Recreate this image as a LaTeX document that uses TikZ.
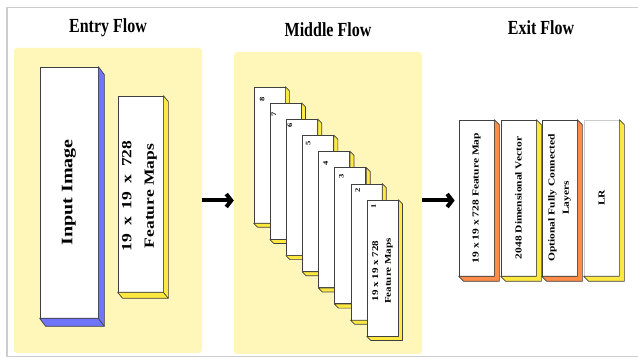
\documentclass[tikz,border=0pt]{standalone}
\usepackage{fontspec}
\setmainfont{Liberation Serif}
\usetikzlibrary{arrows.meta}
\definecolor{panelyellow}{RGB}{255,246,185}
\definecolor{sideblue}{RGB}{112,116,250}
\definecolor{sideyellow}{RGB}{255,233,64}
\definecolor{sideorange}{RGB}{255,140,72}
\definecolor{edgegrey}{RGB}{64,64,64}
\definecolor{framegrey}{RGB}{205,205,205}
\begin{document}
\begin{tikzpicture}
[x=1pt,y=-1pt,
  paneldecorate/.style={shape=rectangle,fill=panelyellow,rounded corners=3pt,inner sep=0pt},%
  boxdecorate/.style={shape=rectangle,fill=white,draw=edgegrey,line width=0.7pt,inner sep=0pt},%
  sidedecorate/.style={draw=edgegrey,line width=0.7pt,line join=round},%
  headdecorate/.style={font=\fontsize{20}{24}\selectfont\bfseries,xscale=0.8,inner sep=0pt},%
  textdecorate/.style={xscale=0.8,rotate=90,align=center,inner sep=0pt},%
  numdecorate/.style={xscale=0.8,rotate=90,inner sep=0pt,font=\fontsize{8.5}{9}\selectfont\bfseries},%
  arrowdecorate/.style={-{Straight Barb[length=5pt,width=13pt]},line width=4pt}]
\useasboundingbox (0,0) rectangle (638,358);
%%% panels and headings
\node (entrybg) at (108,200.5) [paneldecorate,minimum width=188pt,minimum height=305pt] {};
\node (midbg) at (328,203) [paneldecorate,minimum width=188pt,minimum height=302pt] {};
\node (entryhead) at (108,28) [headdecorate] {Entry Flow};
\node (midhead) at (328,30) [headdecorate] {Middle Flow};
\node (exithead) at (541,28) [headdecorate] {Exit Flow};
% frame
\draw[framegrey,line width=1.5pt] (640,7.5) -- (7,7.5) -- (7,356.5) -- (640,356.5);
%
%%% entry flow
% boxes
\node (img) at (69,192.5) [boxdecorate,minimum width=58pt,minimum height=251pt] {};
\filldraw[sidedecorate,fill=sideblue] (img.north east) -- ++(6,8) -- ([shift={(6,8)}]img.south east)
  -- ([shift={(6,8)}]img.south west) -- (img.south west) -- (img.south east) -- cycle;
\draw[sidedecorate] (img.south east) -- ++(6,8);
\node (fmap) at (140.5,194) [boxdecorate,minimum width=45pt,minimum height=196pt] {};
\filldraw[sidedecorate,fill=sideyellow] (fmap.north east) -- ++(5,6) -- ([shift={(5,6)}]fmap.south east)
  -- ([shift={(5,6)}]fmap.south west) -- (fmap.south west) -- (fmap.south east) -- cycle;
\draw[sidedecorate] (fmap.south east) -- ++(5,6);
% texts
\node (imgtext) at (img.center) [textdecorate,font=\fontsize{20}{24}\selectfont\bfseries] {Input Image};
\node (fmaptext) at ([shift={(-1,2)}]fmap.center) [textdecorate,font=\fontsize{17.5}{28}\selectfont\bfseries] {{\spaceskip=8pt\relax 19 x 19 x 728}\\Feature Maps};
%
%%% middle flow
% cards, back to front
\node (c8) at (269.5,155) [boxdecorate,minimum width=31pt,minimum height=136pt] {};
\filldraw[sidedecorate,fill=sideyellow] (c8.north east) -- ++(4,4) -- ([shift={(4,4)}]c8.south east)
  -- ([shift={(4,4)}]c8.south west) -- (c8.south west) -- (c8.south east) -- cycle;
\node (n8) at ([shift={(8.5,13)}]c8.north west) [numdecorate] {8};
\node (c7) at (285.7,171.2) [boxdecorate,minimum width=31pt,minimum height=136pt] {};
\filldraw[sidedecorate,fill=sideyellow] (c7.north east) -- ++(4,4) -- ([shift={(4,4)}]c7.south east)
  -- ([shift={(4,4)}]c7.south west) -- (c7.south west) -- (c7.south east) -- cycle;
\node (n7) at ([shift={(4,12)}]c7.north west) [numdecorate] {7};
\node (c6) at (301.8,187.3) [boxdecorate,minimum width=31pt,minimum height=136pt] {};
\filldraw[sidedecorate,fill=sideyellow] (c6.north east) -- ++(4,4) -- ([shift={(4,4)}]c6.south east)
  -- ([shift={(4,4)}]c6.south west) -- (c6.south west) -- (c6.south east) -- cycle;
\node (n6) at ([shift={(4,6.5)}]c6.north west) [numdecorate] {6};
\node (c5) at (318,203.5) [boxdecorate,minimum width=31pt,minimum height=136pt] {};
\filldraw[sidedecorate,fill=sideyellow] (c5.north east) -- ++(4,4) -- ([shift={(4,4)}]c5.south east)
  -- ([shift={(4,4)}]c5.south west) -- (c5.south west) -- (c5.south east) -- cycle;
\node (n5) at ([shift={(6,8.5)}]c5.north west) [numdecorate] {5};
\node (c4) at (334.1,219.6) [boxdecorate,minimum width=31pt,minimum height=136pt] {};
\filldraw[sidedecorate,fill=sideyellow] (c4.north east) -- ++(4,4) -- ([shift={(4,4)}]c4.south east)
  -- ([shift={(4,4)}]c4.south west) -- (c4.south west) -- (c4.south east) -- cycle;
\node (n4) at ([shift={(7.5,12.5)}]c4.north west) [numdecorate] {4};
\node (c3) at (350.3,235.8) [boxdecorate,minimum width=31pt,minimum height=136pt] {};
\filldraw[sidedecorate,fill=sideyellow] (c3.north east) -- ++(4,4) -- ([shift={(4,4)}]c3.south east)
  -- ([shift={(4,4)}]c3.south west) -- (c3.south west) -- (c3.south east) -- cycle;
\node (n3) at ([shift={(7,9)}]c3.north west) [numdecorate] {3};
\node (c2) at (366.4,251.9) [boxdecorate,minimum width=31pt,minimum height=136pt] {};
\filldraw[sidedecorate,fill=sideyellow] (c2.north east) -- ++(4,4) -- ([shift={(4,4)}]c2.south east)
  -- ([shift={(4,4)}]c2.south west) -- (c2.south west) -- (c2.south east) -- cycle;
\node (n2) at ([shift={(7,7)}]c2.north west) [numdecorate] {2};
\node (c1) at (382.6,268.1) [boxdecorate,minimum width=31pt,minimum height=136pt] {};
\filldraw[sidedecorate,fill=sideyellow] (c1.north east) -- ++(4,4) -- ([shift={(4,4)}]c1.south east)
  -- ([shift={(4,4)}]c1.south west) -- (c1.south west) -- (c1.south east) -- cycle;
\node (n1) at ([shift={(7,7)}]c1.north west) [numdecorate] {1};
% text on the front card
\node (c1text) at ([shift={(0,3)}]c1.center) [textdecorate,font=\fontsize{11}{16}\selectfont\bfseries] {19 x 19 x 728\\Feature Maps};
%
%%% exit flow
% boxes
\node (ea) at (476.5,198) [boxdecorate,minimum width=35pt,minimum height=156pt] {};
\filldraw[sidedecorate,fill=sideorange] (ea.north east) -- ++(5,5) -- ([shift={(5,5)}]ea.south east)
  -- ([shift={(5,5)}]ea.south west) -- (ea.south west) -- (ea.south east) -- cycle;
\node (eb) at (518.5,198) [boxdecorate,minimum width=35pt,minimum height=156pt] {};
\filldraw[sidedecorate,fill=sideyellow] (eb.north east) -- ++(5,5) -- ([shift={(5,5)}]eb.south east)
  -- ([shift={(5,5)}]eb.south west) -- (eb.south west) -- (eb.south east) -- cycle;
\node (ec) at (559.5,198) [boxdecorate,minimum width=35pt,minimum height=156pt] {};
\filldraw[sidedecorate,fill=sideorange] (ec.north east) -- ++(5,5) -- ([shift={(5,5)}]ec.south east)
  -- ([shift={(5,5)}]ec.south west) -- (ec.south west) -- (ec.south east) -- cycle;
\node (ed) at (601.5,198) [boxdecorate,draw=framegrey,minimum width=35pt,minimum height=156pt] {};
\filldraw[sidedecorate,fill=sideyellow] (ed.north east) -- ++(5,5) -- ([shift={(5,5)}]ed.south east)
  -- ([shift={(5,5)}]ed.south west) -- (ed.south west) -- (ed.south east) -- cycle;
% texts
\node (eatext) at (ea.center) [textdecorate,font=\fontsize{11.5}{17}\selectfont\bfseries] {19 x 19 x 728 Feature Map};
\node (ebtext) at (eb.center) [textdecorate,font=\fontsize{11.5}{17}\selectfont\bfseries] {2048 Dimensional Vector};
\node (ectext) at (ec.center) [textdecorate,font=\fontsize{11.5}{18}\selectfont\bfseries] {Optional Fully Connected\\Layers};
\node (edtext) at (ed.center) [textdecorate,font=\fontsize{11.5}{17}\selectfont\bfseries] {LR};
%
%%% arrows between the flows
\draw[arrowdecorate] (entrybg.east) -- (midbg.west |- entrybg.east);
\draw[arrowdecorate,shorten >=4pt] (midbg.east |- entrybg.east) -- (ea.west |- entrybg.east);
\end{tikzpicture}
\end{document}
